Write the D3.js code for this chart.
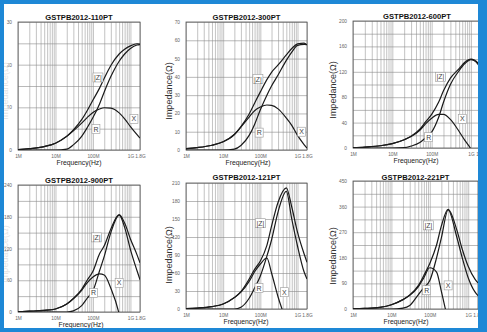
<!DOCTYPE html>
<html>
<head>
<meta charset="utf-8">
<script src="https://cdn.jsdelivr.net/npm/d3@7/dist/d3.min.js"></script>
<style>
  body { margin: 0; background: #fff; }
  text { font-family: "Liberation Sans", Arial, sans-serif; }
</style>
</head>
<body>
<svg id="svg"></svg>
<script>
// frequency samples in MHz, shared by all six panels
const freqMHz = [1, 2, 5, 10, 20, 30, 50, 70, 100, 150, 200, 300, 500, 700, 1000, 1500, 1800];
const xTickVals = [1, 10, 100, 1000, 1800];
const xTickLabels = ["1M", "10M", "100M", "1G", "1.8G"];

// GSTPB2012-110PT
const z110 = [0.1, 0.3, 0.8, 1.6, 3.2, 4.7, 7.1, 9.2, 11.7, 14.5, 16.8, 19.8, 22.5, 23.6, 24.4, 24.9, 24.8];
const r110 = [0, 0, 0, 0, 0.2, 1.2, 3.2, 5.2, 7.6, 10.8, 13.6, 17.2, 20.8, 22.5, 23.8, 24.6, 24.7];
const x110 = [0.1, 0.3, 0.8, 1.6, 3.2, 4.5, 6.3, 7.6, 8.8, 9.6, 9.9, 9.8, 8.7, 7.3, 5.5, 3.6, 2.8];
const yTicks110 = [0, 10, 20, 30];

// GSTPB2012-300PT
const z300 = [0.7, 1.3, 2.6, 4.5, 8.5, 12.8, 19.7, 25.6, 31.8, 38.5, 42.5, 46.5, 52, 55.5, 58, 58.5, 57.5];
const r300 = [0, 0, 0, 0, 0.5, 2.5, 8, 14, 22, 30, 35, 41, 49, 53.5, 57.2, 57.8, 57.6];
const x300 = [0.7, 1.3, 2.6, 4.5, 8.5, 12.5, 18, 21.5, 23.5, 24.6, 24.4, 22.5, 17.5, 13.5, 8, 3, 1];
const yTicks300 = [0, 10, 20, 30, 40, 50, 60, 70];

// GSTPB2012-600PT
const z600 = [0.5, 1.5, 3.5, 6.8, 13, 18.5, 29.5, 41, 53, 72, 90, 110, 125, 135, 140, 134, 123];
const r600 = [0, 0, 0, 0, 0.5, 3, 8.5, 16, 25, 48, 72, 100, 122, 133, 139, 132, 122];
const x600 = [0.5, 1.5, 3.5, 6.8, 13, 18, 28, 38, 47, 53, 53, 45, 26, 12, -2, -30, -45];
const yTicks600 = [0, 40, 80, 120, 160, 200];

// GSTPB2012-900PT
const z900 = [0.5, 1.5, 3, 5.7, 15, 25.5, 43, 60, 77, 110, 125, 157, 184, 168, 138, 108, 93];
const r900 = [0, 0, 0, 0, 0, 2, 12, 26, 40, 78, 105, 150, 183, 160, 118, 78, 61];
const x900 = [0.5, 1.5, 3, 5.7, 15, 25, 41, 55, 66, 72, 70, 45, -4, -60, -110, -160, -180];
const yTicks900 = [0, 60, 120, 180, 240];

// GSTPB2012-121PT
const z121 = [0.5, 1.5, 4, 8.3, 19, 29, 50, 66, 80, 106, 138, 178, 202, 170, 128, 92, 78];
const r121 = [0, 0, 0, 0, 0, 3, 18, 35, 55, 88, 115, 162, 196, 150, 105, 62, 50];
const x121 = [0.5, 1.5, 4, 8.3, 19, 28, 46, 62, 75, 85, 60, 20, -21, -50, -80, -110, -120];
const yTicks121 = [0, 30, 60, 90, 120, 150, 180, 210];

// GSTPB2012-221PT
const z221 = [0.5, 2, 6, 15, 33, 49, 82, 118, 160, 225, 292, 350, 280, 210, 150, 105, 92];
const r221 = [0, 0, 0, 0, 3, 12, 50, 75, 100, 180, 250, 348, 255, 180, 110, 60, 47];
const x221 = [0.5, 2, 6, 15, 33, 48, 78, 110, 145, 130, 62, -41, -150, -200, -250, -300, -300];
const yTicks221 = [0, 90, 180, 270, 360, 450];

// curve tags, [MHz, ohm] for |Z|, R, X
const tags110 = [[136, 17], [120, 4.9], [1240, 7.3]];
const tags300 = [[86, 38.8], [93, 9.5], [1290, 10]];
const tags600 = [[167, 112], [84, 17], [600, 46]];
const tags900 = [[125, 141], [104, 36], [500, 55]];
const tags121 = [[100, 143], [92, 35], [445, 28]];
const tags221 = [[92, 294], [83, 66], [300, 83]];

const W = 487, H = 332;

const panels = [
  { title: "GSTPB2012-110PT", z: z110, r: r110, x: x110, ticks: yTicks110, grid: 5, tags: tags110,
    l: 18, t: 22, rr: 140, b: 150, titleY: 17, freqX: 79, freqY: 162, ylabX: 5, ylabY: 91, ylabC: "#e4e4e4" },
  { title: "GSTPB2012-300PT", z: z300, r: r300, x: x300, ticks: yTicks300, grid: 10, tags: tags300,
    l: 186, t: 22, rr: 307, b: 150, titleY: 17, freqX: 248, freqY: 162, ylabX: 169, ylabY: 91, ylabC: "#333" },
  { title: "GSTPB2012-600PT", z: z600, r: r600, x: x600, ticks: yTicks600, grid: 20, tags: tags600,
    l: 353, t: 21, rr: 481, b: 148, titleY: 16, freqX: 416, freqY: 160, ylabX: 333, ylabY: 90, ylabC: "#333" },
  { title: "GSTPB2012-900PT", z: z900, r: r900, x: x900, ticks: yTicks900, grid: 30, tags: tags900,
    l: 18, t: 185, rr: 140, b: 312, titleY: 180, freqX: 81, freqY: 324, ylabX: 5, ylabY: 254, ylabC: "#e4e4e4" },
  { title: "GSTPB2012-121PT", z: z121, r: r121, x: x121, ticks: yTicks121, grid: 30, tags: tags121,
    l: 186, t: 183, rr: 307, b: 309, titleY: 177, freqX: 246, freqY: 321, ylabX: 169, ylabY: 255, ylabC: "#333" },
  { title: "GSTPB2012-221PT", z: z221, r: r221, x: x221, ticks: yTicks221, grid: 45, tags: tags221,
    l: 353, t: 181, rr: 478, b: 309, titleY: 177, freqX: 406, freqY: 321, ylabX: 333, ylabY: 256, ylabC: "#333" }
];

const svg = d3.select("#svg").attr("width", W).attr("height", H);
svg.append("rect").attr("width", W).attr("height", H).attr("fill", "#fff");

// log minor grid frequencies 1..9 per decade
const gridFreqs = [];
[1, 10, 100, 1000].forEach(d => {
  for (let k = 1; k <= 9; k++) if (k * d <= 1800) gridFreqs.push(k * d);
});
gridFreqs.push(1800);

panels.forEach((p, pi) => {
  const x = d3.scaleLog().domain([1, 1800]).range([p.l, p.rr]);
  const yMax = p.ticks[p.ticks.length - 1];
  const y = d3.scaleLinear().domain([0, yMax]).range([p.b, p.t]);
  const g = svg.append("g");

  // vertical grid
  g.append("g")
    .attr("transform", `translate(0,${p.b})`)
    .call(d3.axisBottom(x).tickValues(gridFreqs).tickSize(-(p.b - p.t)).tickFormat(""))
    .call(a => a.select(".domain").remove())
    .call(a => a.selectAll("line").attr("stroke", "#9a9a9a").attr("stroke-width", 0.6));

  // horizontal grid
  g.append("g")
    .attr("transform", `translate(${p.l},0)`)
    .call(d3.axisLeft(y).tickValues(d3.range(0, yMax + 0.01, p.grid)).tickSize(-(p.rr - p.l)).tickFormat(""))
    .call(a => a.select(".domain").remove())
    .call(a => a.selectAll("line").attr("stroke", "#8a8a8a").attr("stroke-width", 0.6));

  // frame
  g.append("rect")
    .attr("x", p.l).attr("y", p.t)
    .attr("width", p.rr - p.l).attr("height", p.b - p.t)
    .attr("fill", "none").attr("stroke", "#555").attr("stroke-width", 0.8);

  // y tick labels
  g.append("g")
    .attr("transform", `translate(${p.l - 3},0)`)
    .call(d3.axisLeft(y).tickValues(p.ticks).tickSize(0).tickFormat(d3.format("d")))
    .call(a => a.select(".domain").remove())
    .call(a => a.selectAll("text").attr("font-size", 4.8).attr("fill", "#666")
      .attr("font-family", "Liberation Sans, Arial, sans-serif"));

  // x tick labels
  g.append("g")
    .attr("transform", `translate(0,${p.b + 2})`)
    .call(d3.axisBottom(x).tickValues(xTickVals).tickSize(0).tickFormat((d, i) => xTickLabels[i]))
    .call(a => a.select(".domain").remove())
    .call(a => a.selectAll("text").attr("font-size", 4.8).attr("fill", "#666")
      .attr("font-family", "Liberation Sans, Arial, sans-serif"));

  // curves
  const clipId = "clip" + pi;
  svg.append("clipPath").attr("id", clipId)
    .append("rect").attr("x", p.l).attr("y", p.t - 2)
    .attr("width", p.rr - p.l).attr("height", p.b - p.t + 2);

  const line = d3.line()
    .x(d => x(d[0]))
    .y(d => y(d[1]))
    .curve(d3.curveMonotoneX);

  [p.z, p.r, p.x].forEach(vals => {
    g.append("path")
      .attr("clip-path", `url(#${clipId})`)
      .attr("d", line(freqMHz.map((f, i) => [f, vals[i]])))
      .attr("fill", "none")
      .attr("stroke", "#1a1a1a")
      .attr("stroke-width", 1.2);
  });

  // curve tags
  ["|Z|", "R", "X"].forEach((lab, i) => {
    const [tf, tv] = p.tags[i];
    const cx = x(tf), cy = y(tv);
    const w = lab.length > 1 ? 10 : 8;
    g.append("rect")
      .attr("x", cx - w / 2).attr("y", cy - 4.5)
      .attr("width", w).attr("height", 9)
      .attr("fill", "#fff").attr("stroke", "#999").attr("stroke-width", 0.6);
    g.append("text")
      .attr("x", cx).attr("y", cy + 2.5)
      .attr("text-anchor", "middle")
      .attr("font-size", 7)
      .attr("font-family", "Liberation Serif, serif")
      .attr("fill", "#444")
      .text(lab);
  });

  // titles
  g.append("text")
    .attr("x", (p.l + p.rr) / 2).attr("y", p.titleY + 2.5)
    .attr("text-anchor", "middle")
    .attr("font-size", 7.6).attr("font-weight", "bold")
    .attr("fill", "#111")
    .text(p.title);

  g.append("text")
    .attr("x", p.freqX).attr("y", p.freqY + 2.5)
    .attr("text-anchor", "middle")
    .attr("font-size", 6.8)
    .attr("fill", "#222")
    .text("Frequency(Hz)");

  g.append("text")
    .attr("transform", `translate(${p.ylabX + 3},${p.ylabY}) rotate(-90)`)
    .attr("text-anchor", "middle")
    .attr("font-size", 9)
    .attr("fill", p.ylabC)
    .text("Impedance(Ω)");
});

// blue frame around the picture
const blue = "#1e88d6";
svg.append("rect").attr("x", 0).attr("y", 0).attr("width", W).attr("height", 4).attr("fill", blue);
svg.append("rect").attr("x", 0).attr("y", 0).attr("width", 4).attr("height", H).attr("fill", blue);
svg.append("rect").attr("x", 478).attr("y", 0).attr("width", W - 478).attr("height", H).attr("fill", blue);
svg.append("rect").attr("x", 0).attr("y", 328).attr("width", W).attr("height", H - 328).attr("fill", blue);
</script>
</body>
</html>
